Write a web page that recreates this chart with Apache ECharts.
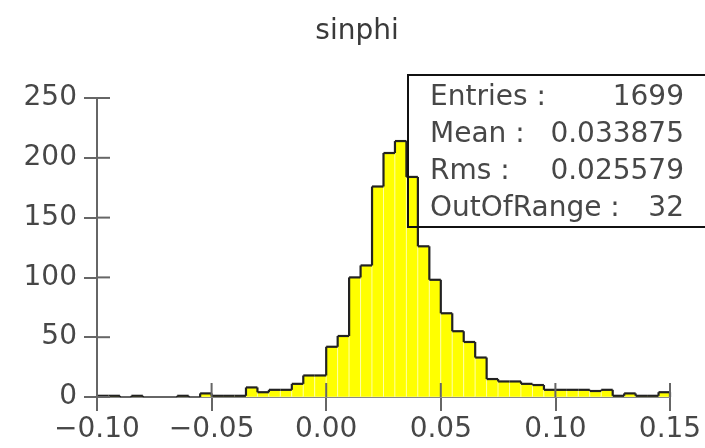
<!DOCTYPE html>
<html>
<head>
<meta charset="utf-8">
<script src="https://cdn.jsdelivr.net/npm/echarts@6/dist/echarts.min.js"></script>
<style>html,body{margin:0;padding:0;background:#fff}#c{width:705px;height:448px}</style>
</head>
<body>
<div id="c"></div>
<script>
const titleText = 'sinphi';
const binStart = -0.10;
const binWidth = 0.005;
const counts = [1,1,0,1,0,0,0,1,0,3, 1,1,1,8,4,6,6,11,18,18, 42,51,100,110,176,204,214,184,126,98, 70,55,46,33,15,13,13,11,10,6, 6,6,6,5,6,1,3,1,1,4];
const xTicks = [-0.10, -0.05, 0.00, 0.05, 0.10, 0.15];
const yTicks = [0, 50, 100, 150, 200, 250];
const statLabels = ['Entries :', 'Mean :', 'Rms :', 'OutOfRange :'];
const statValues = ['1699', '0.033875', '0.025579', '32'];

const xMin = xTicks[0], xMax = xTicks[xTicks.length-1], xInt = 0.05;
const yMin = yTicks[0], yMax = yTicks[yTicks.length-1], yInt = 50;

const binData = counts.map((c, i) => [binStart + i*binWidth, binStart + (i+1)*binWidth, c, i > 0 ? counts[i-1] : 0, i === counts.length-1 ? 1 : 0]);

const font = 'DejaVu Sans';
const txtColor = '#474747';
const axisColor = '#666';
const fmtX = v => { const s = Number(v).toFixed(2); return s.replace('-', '\u2212'); };

const chart = echarts.init(document.getElementById('c'), null, {renderer: 'canvas'});

const statGraphics = [];
const rowY0 = 99, rowH = 37;
statLabels.forEach((l, i) => {
  statGraphics.push({type: 'text', x: 430, y: rowY0 + i*rowH - 15, z: 100,
    style: {text: l, font: '28px "' + font + '"', fill: txtColor, textAlign: 'left'}});
  statGraphics.push({type: 'text', x: 684, y: rowY0 + i*rowH - 15, z: 100,
    style: {text: statValues[i], font: '28px "' + font + '"', fill: txtColor, textAlign: 'right'}});
});

chart.setOption({
  animation: false,
  backgroundColor: '#fff',
  grid: {left: 97, right: 35, top: 98, bottom: 51, containLabel: false},
  xAxis: {
    type: 'value', min: xMin, max: xMax, interval: xInt, position: 'bottom',
    splitLine: {show: false},
    axisLine: {show: true, onZero: false, lineStyle: {color: axisColor, width: 2}},
    axisTick: {show: true, inside: false, length: 14, lineStyle: {color: axisColor, width: 2}},
    axisLabel: {show: true, margin: 19, formatter: fmtX, fontFamily: font, fontSize: 28, color: txtColor}
  },
  yAxis: {
    type: 'value', min: yMin, max: yMax, interval: yInt, position: 'left',
    splitLine: {show: false},
    axisLine: {show: true, onZero: false, lineStyle: {color: axisColor, width: 2}},
    axisTick: {show: true, inside: false, length: 13, lineStyle: {color: axisColor, width: 2}},
    axisLabel: {show: true, margin: 20, fontFamily: font, fontSize: 28, color: txtColor}
  },
  graphic: [
    {type: 'text', x: 357, y: 18, z: 100,
      style: {text: titleText, font: '28px "' + font + '"', fill: '#3a3a3a', textAlign: 'center'}},
    {type: 'rect', x: 408, y: 75, z: 99,
      shape: {width: 330, height: 152},
      style: {fill: 'none', stroke: '#111', lineWidth: 2}}
  ].concat(statGraphics),
  series: [
    {
      type: 'custom', z: 2,
      data: binData,
      encode: {x: [0, 1], y: 2},
      renderItem: function (params, api) {
        const p0 = api.coord([api.value(0), api.value(2)]);
        const p1 = api.coord([api.value(1), 0]);
        if (api.value(2) <= 0) return {type: 'group', children: []};
        return {type: 'rect',
          shape: {x: p0[0], y: p0[1], width: p1[0]-p0[0], height: p1[1]-p0[1]},
          style: {fill: '#ffff00', stroke: 'rgba(255,255,255,0.45)', lineWidth: 1}};
      }
    },
    {
      type: 'custom', z: 3,
      data: binData,
      encode: {x: [0, 1], y: 2},
      renderItem: function (params, api) {
        const lo = api.value(0), hi = api.value(1), c = api.value(2), prev = api.value(3), last = api.value(4);
        const a = api.coord([lo, c]);
        const b = api.coord([hi, c]);
        const pv = api.coord([lo, prev]);
        const z0 = api.coord([hi, 0]);
        const st = {stroke: '#222', lineWidth: 2.2, fill: null};
        const ch = [];
        if (c > 0) ch.push({type: 'line', shape: {x1: a[0], y1: a[1], x2: b[0], y2: b[1]}, style: st});
        if (c !== prev) ch.push({type: 'line', shape: {x1: pv[0], y1: pv[1], x2: a[0], y2: a[1]}, style: st});
        if (last && c > 0) ch.push({type: 'line', shape: {x1: b[0], y1: b[1], x2: z0[0], y2: z0[1]}, style: st});
        return {type: 'group', children: ch};
      }
    },
    {
      // inner halves of the y-axis ticks
      type: 'custom', z: 4, silent: true,
      data: yTicks.map(v => [xMin, v]),
      renderItem: function (params, api) {
        const p = api.coord([api.value(0), api.value(1)]);
        return {type: 'line', shape: {x1: p[0], y1: p[1], x2: p[0] + 13, y2: p[1]},
          style: {stroke: axisColor, lineWidth: 2}};
      }
    },
    {
      // inner halves of the x-axis ticks
      type: 'custom', z: 4, silent: true,
      data: xTicks.map(v => [v, yMin]),
      renderItem: function (params, api) {
        const p = api.coord([api.value(0), api.value(1)]);
        return {type: 'line', shape: {x1: p[0], y1: p[1], x2: p[0], y2: p[1] - 14},
          style: {stroke: axisColor, lineWidth: 2}};
      }
    }
  ]
});
</script>
</body>
</html>
